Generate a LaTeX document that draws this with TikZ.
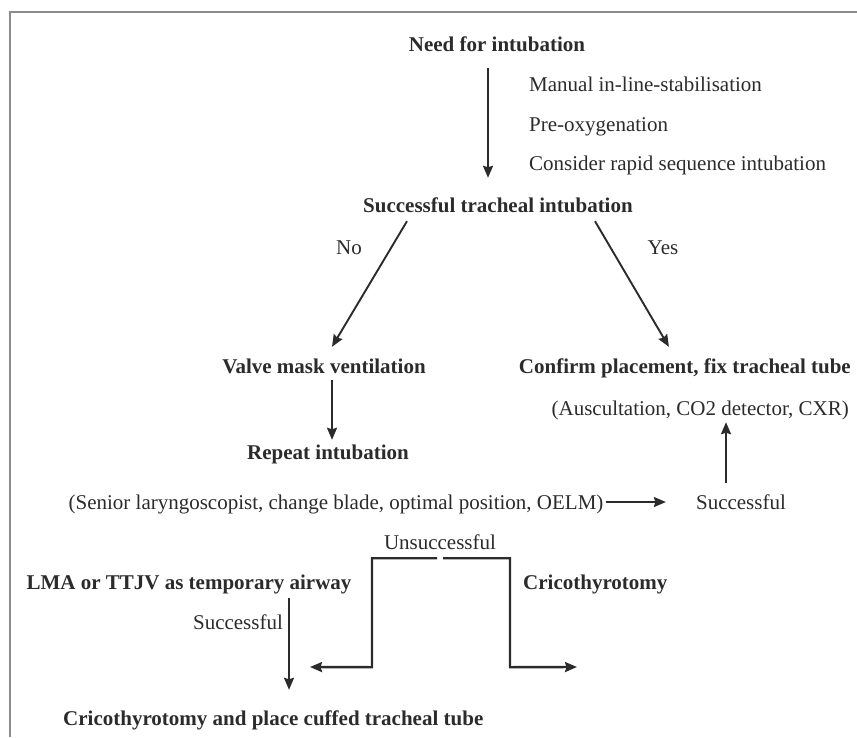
\documentclass[tikz,border=0pt]{standalone}
\usepackage{xcolor}
\usepackage{fontspec}
\setmainfont{Liberation Serif}
\usepackage{tikz}
\usetikzlibrary{arrows.meta,positioning,calc}

\definecolor{inkgray}{HTML}{2B2B2B}
\definecolor{framegray}{HTML}{8C8C8C}

\begin{document}
\begin{tikzpicture}[
  x=1pt, y=-1pt,
  >={Stealth[length=12pt,width=10pt,inset=1.5pt]},
  every node/.style={font=\fontsize{21}{25}\selectfont, text=inkgray, inner sep=2pt, text height=15pt, text depth=5pt},
  stepbox/.style={font=\fontsize{21}{25}\selectfont\bfseries},
  note/.style={anchor=west},
  flow/.style={->, draw=inkgray, line width=1.9pt},
  fork/.style={->, draw=inkgray, line width=2.4pt},
]
\useasboundingbox (0,0) rectangle (857,737);
\draw[framegray, line width=1.5pt] (10,737) -- (10,12) -- (857,12);

% Steps
\node[stepbox] (need)    at (497,46)  {Need for intubation};
\node[note]    (manual)  at (527,86)  {Manual in-line-stabilisation};
\node[note]    (preox)   at (527,126) {Pre-oxygenation};
\node[note]    (rsi)     at (527,165) {Consider rapid sequence intubation};
\node[stepbox] (succ)    at (498,207) {Successful tracheal intubation};
\node          (no)      at (349,249) {No};
\node          (yes)     at (663,249) {Yes};
\node[stepbox] (valve)   at (324,368) {Valve mask ventilation};
\node[stepbox, anchor=east] (confirm) at (853,368) {Confirm placement, fix tracheal tube};
\node[anchor=east] (checks) at (851,410) {(Auscultation, CO2 detector, CXR)};
\node[stepbox] (repeat)  at (328,454) {Repeat intubation};
\node          (options) at (336,504) {(Senior laryngoscopist, change blade, optimal position, OELM)};
\node          (succ2)   at (741,504) {Successful};
\node          (unsucc)  at (440,544) {Unsuccessful};
\node[stepbox] (lma)     at (189,584) {LMA or TTJV as temporary airway};
\node[stepbox, anchor=west] (crico) at (521,584) {Cricothyrotomy};
\node          (succ3)   at (238,624) {Successful};
\node[stepbox, anchor=west] (tube) at (61,720) {Cricothyrotomy and place cuffed tracheal tube};

\coordinate (lmaend)   at (310,667);
\coordinate (cricoend) at (577,667);

% Main path
\draw[flow] ([xshift=-9pt,yshift=-10pt]need.south) -- ([xshift=-10pt,yshift=17pt]succ.north);
\draw[flow] ([xshift=-91pt,yshift=-2pt]succ.south) -- ([xshift=8pt,yshift=9pt]valve.north);
\draw[flow] ([xshift=97pt,yshift=-2pt]succ.south) -- ([xshift=-16pt,yshift=9pt]confirm.north);
\draw[flow] ([xshift=8pt]valve.south) -- ([xshift=4pt,yshift=2pt]repeat.north);
\draw[flow] ([yshift=2pt]options.east) -- ([xshift=-28pt,yshift=2pt]succ2.west);
\draw[flow] ([xshift=-15pt,yshift=9pt]succ2.north) -- ([xshift=-15pt]succ2.north |- checks.south);

% Unsuccessful fork
\draw[fork] ([xshift=-3pt,yshift=-2pt]unsucc.south) -- ++(-65,0) -- ++(0,109) -- (lmaend);
\draw[fork] ([xshift=3pt,yshift=-2pt]unsucc.south) -- ++(67,0) -- ++(0,109) -- (cricoend);

% Rescue airway
\draw[flow] ([xshift=100pt,yshift=-2pt]lma.south) -- ([xshift=228pt,yshift=18pt]tube.north west);

\end{tikzpicture}
\end{document}
